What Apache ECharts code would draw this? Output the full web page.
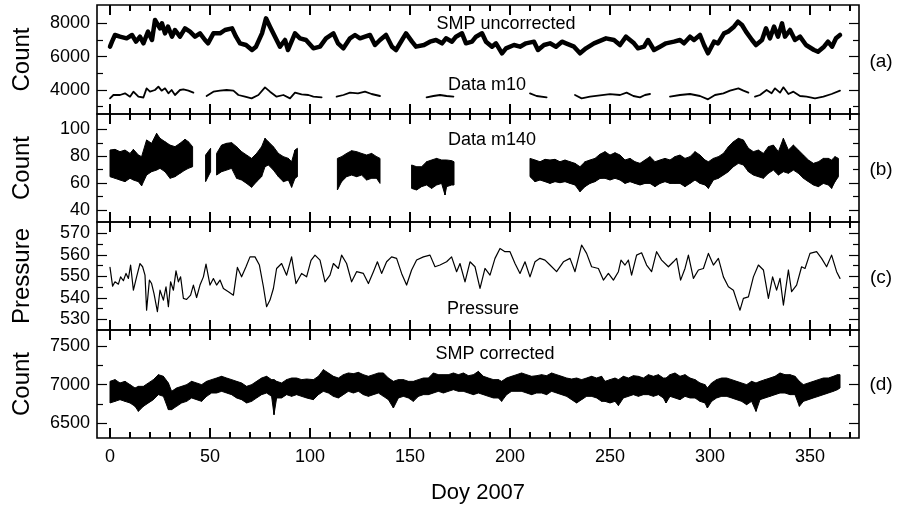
<!DOCTYPE html>
<html>
<head>
<meta charset="utf-8">
<script src="https://cdn.jsdelivr.net/npm/echarts@6/dist/echarts.min.js"></script>
<style>
  html, body { margin: 0; padding: 0; background: #fff; }
  #chart { width: 903px; height: 512px; }
</style>
</head>
<body>
<div id="chart"></div>
<script>
// (a) SMP uncorrected
const smpDays = [
  0, 1, 2.5, 5, 8.3, 11, 13, 15, 16.7, 19,
  21, 22.5, 23.5, 25, 26, 27.5, 29, 31, 32.5, 35,
  37.5, 40, 42.5, 45, 47.5, 49, 51.7, 55, 57.5, 61,
  63, 65, 68, 71, 73, 76, 78, 80, 82.5, 85,
  87.5, 89, 92.5, 95, 98, 101.7, 105, 108, 111.7, 114,
  116.7, 120, 122.5, 125, 127.5, 130, 132.5, 135, 138, 141,
  143, 146, 148, 151, 153, 157, 160, 163, 166, 168,
  171, 173, 176, 178, 181, 183, 186, 188, 191, 193,
  196, 198, 202, 205, 208, 212, 214, 217, 220, 223,
  226, 228, 232, 235, 238, 242, 245, 248, 252, 255,
  258, 262, 264, 267, 269, 272, 275, 278, 282, 285,
  287, 290, 292, 295, 297, 299, 302, 304, 307, 309,
  312, 314, 316, 318, 321, 323, 326, 328, 330, 332,
  334, 336, 337.5, 340, 342.5, 345, 348, 352, 354, 357,
  359, 361, 363, 365
]
const smpUncorrected = [
  6600, 6900, 7300, 7200, 7100, 7300, 6900, 7200, 6800, 7500,
  7000, 8200, 8300, 7700, 8000, 7400, 7800, 7200, 7600, 7200,
  7700, 7500, 7200, 7400, 7000, 6800, 7400, 7400, 7600, 7700,
  7200, 6800, 6700, 6400, 6600, 7400, 8300, 7800, 7200, 6600,
  7000, 6400, 7400, 7100, 7000, 6500, 6600, 7100, 7400, 6800,
  6500, 7100, 7300, 7100, 7200, 7300, 6700, 7000, 7300, 6600,
  6400, 7000, 7400, 6900, 6600, 6700, 6900, 7000, 6800, 7100,
  6900, 7200, 7400, 6800, 6900, 7200, 7400, 6900, 6600, 6800,
  6200, 6500, 6700, 6600, 6800, 6900, 6400, 6700, 6800, 6600,
  6900, 6800, 6600, 6200, 6500, 6800, 6950, 7100, 7000, 6700,
  7200, 6800, 6500, 6600, 7000, 6400, 6600, 6800, 6900, 7000,
  6800, 7200, 7000, 7300, 6700, 6200, 6900, 6800, 7400, 7500,
  7800, 8100, 7900, 7500, 7000, 6700, 7000, 7700, 7100, 7800,
  7200, 8000, 7200, 7600, 7000, 7200, 6700, 6400, 6300, 6600,
  6900, 6600, 7100, 7300
]

// (a) Data m10, null = data gap
const m10Days = [
  0, 1.7, 5, 7.5, 10, 11.7, 14.2, 16.7, 18.3, 20, 22.5, 24.2, 25.8, 27.5, 29.2, 30.8, 32.5, 35, 36.7, 39.2, 41.7,
  45,
  48.3, 51.7, 55, 58.3, 61.7, 64.2, 67.5, 70.8, 74.2, 77.5, 80, 83.3, 86.7, 90, 92.5, 95.8, 99.2, 101.7, 105.8,
  110,
  113.3, 116.7, 120, 124, 127.5, 130.8, 135,
  145,
  158.3, 161.7, 165, 168.3, 171.7,
  190,
  210, 213.3, 218.3,
  225,
  232.5, 235.8, 240, 245, 250, 255, 258.3, 261.7, 265, 267.5, 270,
  275,
  280, 285, 290, 295, 299, 302.5, 306.7, 310, 314.2, 316.7, 319.2,
  321,
  322.5, 325, 328.3, 330.8, 332.5, 335, 336.7, 339.2, 341.7, 345, 348.3, 352.5, 356.7, 360.8, 365
]
const m10Counts = [
  3500, 3700, 3700, 3800, 3600, 3900, 3600, 3550, 4100, 3900, 4000, 4200, 3960, 4100, 3800, 4000, 3700, 4000, 4040, 3960, 3840,
  null,
  3640, 3900, 3960, 4000, 3960, 3700, 3600, 3500, 3700, 4160, 3900, 3600, 3700, 3500, 3840, 3740, 3700, 3600, 3560,
  null,
  3600, 3700, 3840, 3800, 3900, 3760, 3640,
  null,
  3560, 3640, 3700, 3640, 3600,
  null,
  3800, 3640, 3560,
  null,
  3700, 3500, 3600, 3680, 3750, 3700, 3840, 3640, 3560, 3700, 3760,
  null,
  3600, 3700, 3760, 3640, 3440, 3700, 3800, 3960, 4100, 3960, 3840,
  null,
  3600, 3700, 4000, 3800, 4100, 3840, 4160, 3760, 3900, 3640, 3600, 3500, 3600, 3760, 3960
]

// (b) Data m140: upper / lower edge of the noisy band
const m140Days = [
  0, 2.5, 5, 7.5, 10, 11.7, 14.2, 15.8, 18.3, 20.8, 23.3, 25, 27.5, 30, 32.5, 35, 37.5, 39.2, 41.3,
  44,
  47.8, 50.3,
  52,
  53.3, 55.8, 58.3, 60.8, 63.3, 65.8, 68.3, 70.8, 73.3, 75.8, 77.5, 79.2, 81.7, 84.2, 86.7, 89.2, 90.8, 92.5, 93.7,
  100,
  113.7, 115.8, 118.3, 120.8, 123.3, 125.8, 128.3, 130.8, 133.3, 135,
  140,
  150.8, 153.3, 155.8, 158.3, 160.8, 163.3, 165.8, 167.5, 168.3, 170.8, 172,
  190,
  210, 212.5, 215, 217.5, 220, 222.5, 225, 227.5, 230, 232.5, 235, 237.5, 240, 242.5, 245, 247.5, 250, 252.5, 255, 257.5,
  260, 262.5, 265, 267.5, 270, 272.5, 275, 277.5, 280, 282.5, 285, 287.5, 290, 292.5, 295, 297.5, 299.2, 301.7, 304.2, 306.7,
  309.2, 311.7, 314.2, 316.7, 319.2, 321.7, 324.2, 326.7, 329.2, 331.7, 334.2, 336.7, 339.2, 341.7, 344.2, 346.7, 349.2, 351.7, 354.2, 356.7,
  359.2, 360.8, 362.5, 364.2
]
const m140High = [
  84.6, 85.1, 83.4, 84.6, 82.1, 85.1, 80.9, 79.7, 92.1, 89.6, 97.0, 93.3, 90.8, 88.3, 87.1, 89.6, 92.6, 90.8, 87.1,
  null,
  80.9, 85.9,
  null,
  82.1, 88.3, 89.6, 90.1, 87.1, 83.4, 80.9, 78.4, 82.1, 87.1, 93.3, 90.8, 87.1, 82.1, 79.7, 78.4, 75.9, 84.6, 85.9,
  null,
  78.4, 79.7, 82.1, 84.1, 83.4, 82.1, 80.9, 82.1, 79.7, 78.4,
  null,
  73.5, 72.2, 72.2, 75.9, 77.2, 78.4, 77.2, 77.2, 77.2, 76.7, 75.9,
  null,
  78.4, 77.2, 75.9, 77.7, 77.2, 77.7, 75.9, 77.2, 75.9, 74.7, 72.2, 75.9, 77.2, 78.4, 81.5, 83.4, 80.9, 82.6, 80.9, 77.2,
  78.4, 75.9, 74.7, 77.2, 79.7, 75.9, 77.2, 78.4, 77.2, 79.7, 80.9, 78.4, 79.7, 83.4, 80.9, 77.2, 75.9, 78.4, 79.7, 82.1,
  87.1, 90.8, 93.3, 92.1, 85.9, 83.4, 84.6, 82.1, 87.1, 88.3, 83.4, 93.3, 84.6, 88.3, 84.6, 80.9, 77.2, 74.7, 75.9, 78.4,
  78.4, 77.2, 79.7, 78.4
]
const m140Low = [
  64.8, 63.6, 62.3, 61.1, 63.6, 62.3, 61.1, 58.0, 66.0, 68.5, 69.7, 71.0, 68.5, 63.6, 64.8, 67.3, 69.7, 71.0, 72.2,
  null,
  61.1, 68.5,
  null,
  66.0, 68.5, 69.7, 71.0, 63.6, 62.3, 59.8, 56.9, 61.1, 64.8, 72.2, 73.5, 69.7, 64.8, 61.1, 62.3, 56.9, 63.6, 64.8,
  null,
  54.9, 61.1, 64.8, 66.0, 64.8, 66.0, 62.3, 63.6, 63.6, 59.8,
  null,
  56.1, 54.9, 57.4, 58.6, 56.1, 58.6, 59.8, 51.2, 57.4, 58.6, 58.6,
  null,
  64.8, 61.1, 62.3, 61.1, 59.8, 61.1, 60.3, 61.1, 59.8, 58.6, 53.6, 57.4, 59.8, 61.1, 63.5, 63.6, 62.3, 63.6, 62.3, 59.8,
  61.1, 59.8, 58.6, 59.8, 59.8, 57.4, 59.8, 61.1, 59.8, 59.8, 59.8, 57.4, 59.8, 62.3, 59.8, 58.6, 56.1, 62.3, 63.6, 66.0,
  68.5, 72.2, 74.7, 73.5, 68.5, 66.0, 64.8, 63.6, 67.3, 69.7, 66.0, 68.5, 67.3, 69.7, 67.3, 63.6, 61.1, 58.6, 57.4, 59.8,
  58.6, 56.1, 61.1, 64.8
]

// (c) Pressure
const pressureDays = [
  0, 1.3, 2.5, 4.2, 5.3, 6.7, 8, 9.2, 10.3, 11.7,
  13.3, 15, 16.3, 17.5, 18.3, 19.7, 20.8, 22, 23.7, 25,
  26.7, 28, 29.2, 30.3, 31.7, 33, 34.2, 35.3, 36.7, 38.3,
  40.3, 41.7, 43.3, 45, 46.7, 48, 50, 51.7, 53.3, 55,
  56.7, 59.2, 61.7, 63.7, 65.8, 68, 70, 72.5, 74.7, 76.7,
  78.3, 80, 81.7, 83.3, 85.8, 88.3, 90.8, 93, 95.8, 98.3,
  100.5, 102.5, 105, 107.5, 110, 111.7, 114.2, 115.8, 118.3, 120.8,
  123.3, 126.7, 129.2, 131.7, 133.7, 135.8, 138.3, 140.8, 143.3, 145.8,
  148.3, 150.8, 153.3, 156.7, 160, 162.5, 165, 168.3, 170.8, 173.3,
  175, 177.5, 180, 182.5, 185, 187.5, 190, 192.5, 195, 197.5,
  200, 202.5, 205, 207.5, 210, 212.5, 215, 217.5, 220, 223.3,
  226.7, 230, 232.5, 235.8, 238.3, 240.8, 244.2, 246.7, 249.2, 251.7,
  254.2, 255.5, 257.5, 259.2, 260.8, 263.3, 265.8, 268.3, 270.8, 273.3,
  275.8, 279.2, 281.7, 283.3, 285.3, 287.5, 289.2, 291.7, 294.2, 296.7,
  299.2, 301.7, 304.2, 306.7, 309.2, 311.7, 313.3, 315, 316.7, 319.2,
  321.7, 324.2, 326.7, 329.2, 331.3, 333.3, 335, 336.7, 339.2, 340.8,
  343.3, 345.8, 347.5, 350, 353.3, 355.8, 358.3, 360.8, 363.3, 365
]
const pressure = [
  554.2, 545.5, 547.5, 546.4, 549.8, 548.0, 551.4, 549.1, 555.3, 543.6,
  549.8, 556.0, 554.5, 550.6, 534.3, 548.3, 546.7, 542.0, 533.6, 543.6,
  539.0, 545.2, 535.9, 547.5, 543.6, 552.6, 547.5, 549.8, 539.8, 539.3,
  541.3, 546.0, 540.2, 546.0, 549.8, 555.7, 546.0, 549.0, 546.0, 548.3,
  544.4, 542.9, 541.3, 554.2, 549.8, 554.5, 559.1, 559.1, 555.3, 545.2,
  535.9, 539.0, 544.4, 553.7, 556.0, 550.6, 559.1, 546.7, 551.4, 549.8,
  557.5, 559.9, 557.6, 547.5, 550.6, 556.0, 553.7, 559.9, 556.0, 547.5,
  552.2, 551.4, 546.7, 552.2, 556.8, 551.4, 556.8, 559.1, 558.4, 551.4,
  546.0, 553.0, 557.6, 559.1, 559.9, 554.5, 555.3, 556.8, 559.1, 552.2,
  556.0, 547.5, 556.8, 554.5, 544.4, 553.7, 550.6, 558.4, 563.0, 561.5,
  561.5, 556.0, 551.4, 556.8, 549.8, 556.8, 558.4, 557.6, 555.3, 552.2,
  556.8, 558.4, 552.2, 564.6, 560.7, 554.5, 553.7, 548.3, 551.4, 548.3,
  552.2, 557.6, 555.3, 557.6, 550.6, 559.9, 561.0, 555.3, 552.2, 561.5,
  557.6, 554.5, 556.8, 558.4, 548.3, 553.7, 559.9, 549.1, 553.0, 553.7,
  560.7, 555.3, 558.4, 549.8, 545.2, 543.6, 539.0, 534.3, 539.8, 540.5,
  549.8, 555.3, 553.0, 539.8, 549.8, 543.6, 549.1, 536.7, 553.0, 542.9,
  546.0, 554.5, 553.7, 560.7, 561.5, 558.4, 554.5, 559.9, 552.2, 549.1
]

// (d) SMP corrected: upper / lower edge of the noisy band
const corrDays = [
  0, 2.5, 5, 7.5, 10, 12.5, 14.2, 16.7, 19.2, 21.7,
  24.2, 26.7, 29.2, 30.8, 33.3, 35.8, 38.3, 40.8, 43.3, 45.8,
  48.3, 50.8, 53.3, 55.8, 58.3, 60.8, 63.3, 65.8, 68.3, 70.8,
  73.3, 75.8, 78.3, 80.8, 82, 83.3, 85.8, 88.3, 90.8, 93.3,
  95.8, 98.3, 101.7, 104.2, 106.7, 109.2, 111.7, 114.2, 116.7, 119.2,
  121.7, 124.2, 126.7, 129.2, 131.7, 134.2, 136.7, 139.2, 141.7, 144.2,
  146.7, 149.2, 151.7, 154.2, 156.7, 159.2, 161.7, 164.2, 166.7, 169.2,
  171.7, 174.2, 176.7, 179.2, 181.7, 184.2, 186.7, 189.2, 191.7, 194.2,
  195.8, 198.3, 200.8, 203.3, 205.8, 208.3, 210.8, 213.3, 215.8, 218.3,
  220.8, 223.3, 225.8, 228.3, 230.8, 233.3, 235.8, 238.3, 240.8, 243.3,
  245.8, 247.5, 250, 252.5, 254.2, 256.7, 259.2, 261.7, 264.2, 266.7,
  269.2, 271.7, 274.2, 276.7, 278, 280, 282.5, 285, 287.5, 290,
  292.5, 295, 297.5, 298.7, 300.8, 303.3, 305.8, 308.3, 310.8, 313.3,
  315.8, 318.3, 320.8, 323, 325, 327.5, 330, 332.5, 335, 337.5,
  340, 342.5, 344.7, 346.7, 349.2, 351.7, 354.2, 356.7, 359.2, 361.7,
  363.7, 365
]
const corrHigh = [
  7043, 7065, 7022, 7043, 7000, 6957, 6978, 6978, 7022, 7065,
  7129, 7108, 7022, 6914, 6957, 6978, 7000, 7043, 7022, 7000,
  7043, 7065, 7086, 7108, 7086, 7065, 7043, 7022, 6978, 7000,
  7043, 7086, 7108, 7065, 7065, 7043, 7022, 7065, 7086, 7086,
  7065, 7073, 7065, 7108, 7194, 7151, 7108, 7086, 7129, 7151,
  7142, 7159, 7129, 7108, 7129, 7151, 7151, 7086, 7043, 7065,
  7065, 7043, 7043, 7065, 7086, 7086, 7151, 7129, 7129, 7129,
  7151, 7129, 7151, 7116, 7129, 7172, 7108, 7086, 7065, 7065,
  7043, 7086, 7108, 7129, 7151, 7129, 7108, 7116, 7129, 7116,
  7151, 7129, 7108, 7086, 7073, 7086, 7065, 7086, 7108, 7086,
  7108, 7043, 7065, 7086, 7065, 7108, 7086, 7116, 7108, 7086,
  7129, 7108, 7129, 7086, 7086, 7129, 7151, 7108, 7129, 7086,
  7065, 7022, 7000, 6957, 7022, 7065, 7086, 7086, 7065, 7043,
  7022, 7000, 7043, 7022, 7043, 7065, 7086, 7108, 7151, 7129,
  7129, 7108, 7043, 7000, 7022, 7043, 7065, 7086, 7086, 7108,
  7129, 7129
]
const corrLow = [
  6763, 6784, 6806, 6784, 6763, 6720, 6655, 6720, 6763, 6806,
  6871, 6849, 6677, 6677, 6720, 6763, 6784, 6828, 6806, 6784,
  6849, 6892, 6892, 6914, 6892, 6871, 6828, 6806, 6763, 6784,
  6828, 6871, 6892, 6849, 6612, 6828, 6828, 6871, 6849, 6871,
  6849, 6828, 6806, 6871, 6914, 6892, 6849, 6828, 6871, 6914,
  6892, 6914, 6871, 6849, 6871, 6892, 6849, 6806, 6698, 6828,
  6849, 6828, 6784, 6849, 6871, 6871, 6892, 6914, 6892, 6914,
  6935, 6914, 6914, 6892, 6871, 6892, 6871, 6849, 6828, 6828,
  6784, 6871, 6914, 6914, 6914, 6892, 6871, 6892, 6892, 6871,
  6914, 6892, 6871, 6849, 6806, 6763, 6806, 6849, 6849, 6828,
  6784, 6784, 6763, 6784, 6730, 6828, 6849, 6871, 6849, 6871,
  6871, 6849, 6871, 6828, 6763, 6849, 6828, 6806, 6849, 6828,
  6828, 6784, 6763, 6698, 6784, 6828, 6849, 6849, 6828, 6806,
  6784, 6741, 6784, 6655, 6806, 6828, 6849, 6871, 6892, 6892,
  6871, 6871, 6720, 6784, 6806, 6828, 6849, 6871, 6892, 6914,
  6935, 6957
]

// ticks
const dayLabels = [0, 50, 100, 150, 200, 250, 300, 350]
const dayMinor = [10, 20, 30, 40, 60, 70, 80, 90, 110, 120, 130, 140, 160, 170, 180, 190,
  210, 220, 230, 240, 260, 270, 280, 290, 310, 320, 330, 340, 360, 370]
const aTicks = [4000, 6000, 8000]
const aMinor = [3000, 5000, 7000]
const bTicks = [40, 60, 80, 100]
const bMinor = [50, 70, 90]
const cTicks = [530, 540, 550, 560, 570]
const cMinor = [535, 545, 555, 565]
const dTicks = [6500, 7000, 7500]
const dMinor = [6750, 7250]

const font = '"Liberation Sans", Arial, Helvetica, sans-serif'
const pair = (xs, ys) => xs.map((x, i) => [x, ys[i]])

const panels = [
  { top: 5, height: 109, min: 2560, max: 9100, ticks: aTicks, minor: aMinor, name: 'Count', tag: '(a)', tagY: 62 },
  { top: 114, height: 108, min: 31.1, max: 111.4, ticks: bTicks, minor: bMinor, name: 'Count', tag: '(b)', tagY: 170 },
  { top: 222, height: 108, min: 525.1, max: 575.3, ticks: cTicks, minor: cMinor, name: 'Pressure', tag: '(c)', tagY: 278 },
  { top: 330, height: 108, min: 6310, max: 7707, ticks: dTicks, minor: dMinor, name: 'Count', tag: '(d)', tagY: 385 },
]

const tickStyle = { color: '#000', width: 1.2 }
const xAxes = panels.map((p, i) => {
  const labelled = i === panels.length - 1
  return {
    type: 'value', gridIndex: i, position: 'bottom', min: -6.5, max: 374.5,
    axisLine: { show: false, onZero: false }, splitLine: { show: false },
    axisTick: { show: false },
    axisLabel: labelled
      ? { customValues: dayLabels, margin: 10, fontSize: 18, color: '#000', fontFamily: font }
      : { show: false },
    name: labelled ? 'Doy 2007' : '',
    nameLocation: 'middle', nameGap: 44,
    nameTextStyle: { fontSize: 22, color: '#000', fontFamily: font },
  }
})
const yAxes = []
panels.forEach((p, i) => {
  ;[['left', p.ticks, 10], ['left', p.minor, 6], ['right', p.ticks, 10], ['right', p.minor, 6]].forEach(([pos, vals, len], k) => {
    yAxes.push({
      type: 'value', gridIndex: i, position: pos, min: p.min, max: p.max,
      axisLine: { show: false, onZero: false }, splitLine: { show: false },
      axisTick: { show: true, inside: true, length: len, customValues: vals, lineStyle: tickStyle },
      axisLabel: k === 0
        ? { customValues: vals, margin: 7, fontSize: 18, color: '#000', fontFamily: font, formatter: v => String(v) }
        : { show: false },
      name: k === 0 ? p.name : '',
      nameLocation: 'middle', nameGap: 63,
      nameTextStyle: { fontSize: 24, color: '#000', fontFamily: font },
    })
  })
})

const line = (grid, data, width) => ({
  type: 'line', xAxisIndex: grid, yAxisIndex: grid * 4, data,
  showSymbol: false, symbol: 'none', connectNulls: false,
  lineStyle: { color: '#000', width, join: 'round', cap: 'round' },
})

// noisy band drawn as filled quads between consecutive upper/lower readings
const band = (grid, days, hi, lo) => ({
  type: 'custom', xAxisIndex: grid, yAxisIndex: grid * 4,
  data: days.map((d, i) => [d, hi[i], lo[i]]),
  clip: true,
  renderItem: (params, api) => {
    const i = params.dataIndex
    const j = i + 1
    if (j >= days.length || hi[i] == null || hi[j] == null) return null
    return {
      type: 'polygon',
      shape: { points: [api.coord([days[i], hi[i]]), api.coord([days[j], hi[j]]), api.coord([days[j], lo[j]]), api.coord([days[i], lo[i]])] },
      style: { fill: '#000', stroke: '#000', lineWidth: 1 },
    }
  },
})

// day ticks, bottom and top edge of a panel, as small filled rects
const dayTicks = (grid, edge) => ({
  type: 'custom', xAxisIndex: grid, yAxisIndex: grid * 4, silent: true, clip: false, z: 5,
  data: dayLabels.concat(dayMinor).map(v => [v, panels[grid].min]),
  encode: { x: 0, y: 1 },
  renderItem: (params, api) => {
    const v = api.value(0)
    const c = api.coord([v, panels[grid].min])
    const cs = params.coordSys
    const len = dayLabels.includes(v) ? 10 : 6
    const y = edge === 'bottom' ? cs.y + cs.height - len : cs.y
    return { type: 'rect', shape: { x: c[0] - 1, y, width: 2, height: len }, style: { fill: '#000' } }
  },
})

const label = (text, x, y, size) => ({
  type: 'text', x, y, z: 100,
  style: { text, fill: '#000', font: size + 'px ' + font, align: 'center', verticalAlign: 'middle' },
})

const tickSeries = []
panels.forEach((p, i) => { tickSeries.push(dayTicks(i, 'bottom'), dayTicks(i, 'top')) })

const chart = echarts.init(document.getElementById('chart'))
chart.setOption({
  animation: false,
  grid: panels.map(p => ({
    left: 97, right: 44, top: p.top, height: p.height,
    show: true, borderColor: '#000', borderWidth: 1.6,
  })),
  xAxis: xAxes,
  yAxis: yAxes,
  series: [
    line(0, pair(smpDays, smpUncorrected), 4.5),
    line(0, pair(m10Days, m10Counts), 1.8),
    band(1, m140Days, m140High, m140Low),
    line(2, pair(pressureDays, pressure), 1.2),
    band(3, corrDays, corrHigh, corrLow),
  ].concat(tickSeries),
  graphic: [
    label('SMP uncorrected', 506, 24, 18),
    label('Data m10', 487, 85, 18),
    label('Data m140', 492, 140, 18),
    label('Pressure', 483, 309, 18),
    label('SMP corrected', 495, 354, 18),
  ].concat(panels.map(p => label(p.tag, 881, p.tagY, 19))),
})
</script>
</body>
</html>
